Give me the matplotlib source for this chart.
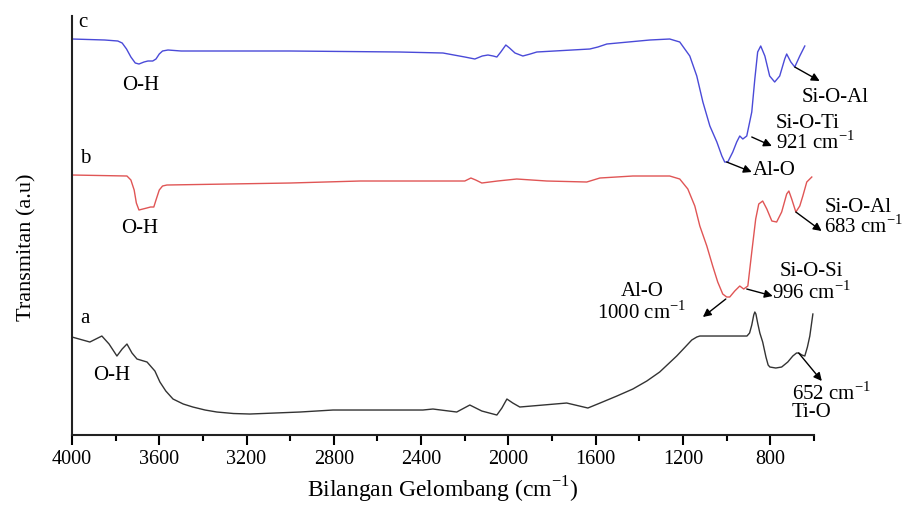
import numpy as np
import matplotlib
matplotlib.use('Agg')
from matplotlib import pyplot as plt
from matplotlib.ticker import MultipleLocator

plt.rcParams['font.family'] = ['Liberation Serif', 'DejaVu Serif']

# curve c (blue)
wn_c = [4000, 3850, 3790, 3770, 3750, 3730, 3710, 3693, 3670, 3652, 3630, 3615,
        3600, 3585, 3560, 3500, 3000, 2500, 2300, 2200, 2154, 2120, 2094, 2070,
        2053, 2035, 2012, 1995, 1970, 1934, 1900, 1870, 1627, 1590, 1549, 1352,
        1261, 1215, 1169, 1137, 1109, 1077, 1045, 1022, 1009, 995, 972, 954, 940,
        926, 908, 885, 871, 858, 844, 825, 803, 780, 757, 734, 725, 706, 688,
        665, 642]
t_c = [396, 395, 394, 392, 386, 378, 372, 371, 373, 374, 374, 376,
       381, 384, 385, 384, 384, 383, 382, 378, 376, 379, 380, 379,
       378, 383, 390, 387, 382, 379, 381, 383, 386, 388, 391, 395,
       396, 393, 379, 359, 333, 309, 293, 279, 273, 273, 283, 293, 299,
       296, 299, 323, 356, 383, 389, 379, 359, 353, 359, 376, 381, 373, 368,
       379, 389]

# curve b (red)
wn_b = [4000, 3748, 3730, 3715, 3705, 3693, 3675, 3657, 3640, 3625, 3615, 3600,
        3585, 3565, 3000, 2680, 2200, 2172, 2150, 2122, 2050, 1962, 1824, 1641,
        1581, 1430, 1261, 1215, 1178, 1146, 1123, 1091, 1064, 1041, 1018, 1000,
        986, 963, 940, 922, 903, 885, 867, 853, 835, 816, 793, 771, 748, 725,
        715, 702, 683, 665, 651, 633, 610]
t_b = [260, 259, 255, 245, 232, 225, 226, 227, 228, 228, 235, 245,
       249, 250, 252, 254, 254, 257, 255, 252, 254, 256, 254, 253,
       257, 259, 259, 256, 246, 229, 209, 189, 169, 153, 141, 138,
       138, 144, 149, 146, 149, 183, 216, 231, 234, 226, 214, 213, 223, 241,
       244, 236, 223, 229, 239, 253, 258]

# curve a (black)
wn_a = [4000, 3918, 3863, 3830, 3794, 3770, 3748, 3725, 3702, 3656, 3620, 3597,
        3570, 3537, 3490, 3446, 3390, 3336, 3260, 3185, 2955, 2804, 2392, 2346,
        2237, 2177, 2122, 2053, 2030, 2007, 1980, 1948, 1733, 1636, 1580, 1503,
        1430, 1366, 1307, 1229, 1190, 1160, 1137, 1123, 907, 895, 885, 876, 871,
        866, 858, 848, 835, 820, 810, 802, 775, 748, 720, 697, 680, 670, 655,
        642, 630, 619, 605]
t_a = [98, 93, 99, 91, 79, 86, 91, 82, 76, 73, 64, 53,
       44, 36, 31, 28, 25, 23, 21.5, 21, 23, 25, 25, 26,
       23, 30, 24, 20, 27, 36, 32, 28, 32, 27, 32, 39,
       46, 54, 63, 79, 88, 95, 98, 99, 99, 102, 110, 120, 123,
       121, 112, 102, 93, 78, 70, 68, 67, 68, 73, 79, 82, 82, 80,
       79, 88, 99, 121]

fig = plt.figure(figsize=(9.03, 5.06), dpi=100)
ax = fig.add_axes([0.0797, 0.1383, 0.8217, 0.8281])

ax.plot(wn_c, t_c, color='#4a4ad8', lw=1.0)
ax.plot(wn_b, t_b, color='#e05555', lw=1.0)
ax.plot(wn_a, t_a, color='#333333', lw=1.0)

ax.set_xlim(4000, 600)
ax.set_ylim(0, 419)
ax.xaxis.set_major_locator(MultipleLocator(400))
ax.xaxis.set_minor_locator(MultipleLocator(200))
ax.set_yticks([])
for s in ['top', 'right']:
    ax.spines[s].set_visible(False)
for s in ['left', 'bottom']:
    ax.spines[s].set_linewidth(1.5)
    ax.spines[s].set_color('#222222')
ax.tick_params(axis='x', which='major', length=7, width=1.5, labelsize=14.5, pad=3)
ax.tick_params(axis='x', which='minor', length=4, width=1.5)

ax.set_xlabel('Bilangan Gelombang (cm$^{\\mathregular{-1}}$)', fontsize=17, va='center')
ax.xaxis.set_label_coords(0.5, -0.128)
ax.set_ylabel('Transmitan (a.u)', fontsize=16, va='center')
ax.yaxis.set_label_coords(-0.061, 0.45)

fs = 15
ax.text(3950, 414, 'c', fontsize=fs, va='center', ha='center')
ax.text(3940, 278, 'b', fontsize=fs, va='center', ha='center')
ax.text(3940, 118, 'a', fontsize=fs, va='center', ha='center')
ax.text(3684, 351, 'O-H', fontsize=fs, va='center', ha='center')
ax.text(3689, 208, 'O-H', fontsize=fs, va='center', ha='center')
ax.text(3817, 61, 'O-H', fontsize=fs, va='center', ha='center')

ax.text(505, 339, 'Si-O-Al', fontsize=fs, va='center', ha='center', clip_on=False)
ax.text(775, 302, 'Si-O-Ti\n921 cm$^{\\mathregular{-1}}$', fontsize=fs, va='center',
        ha='left', linespacing=0.9, clip_on=False)
ax.text(880, 266, 'Al-O', fontsize=fs, va='center', ha='left')
ax.text(553, 218, 'Si-O-Al\n683 cm$^{\\mathregular{-1}}$', fontsize=fs, va='center',
        ha='left', linespacing=0.9, clip_on=False)
ax.text(612, 153, 'Si-O-Si\n996 cm$^{\\mathregular{-1}}$', fontsize=fs, va='center',
        ha='center', linespacing=1.0, clip_on=False)
ax.text(1389, 133, 'Al-O\n1000 cm$^{\\mathregular{-1}}$', fontsize=fs, va='center',
        ha='center', linespacing=1.0)
ax.text(702, 34, '652 cm$^{\\mathregular{-1}}$\nTi-O', fontsize=fs, va='center',
        ha='left', linespacing=0.9, clip_on=False)

arrows = [((688, 368), (574, 354)),
          ((885, 298), (793, 289)),
          ((1000, 273), (885, 263)),
          ((683, 223), (565, 204)),
          ((908, 146), (789, 139)),
          ((1004, 136), (1109, 118)),
          ((670, 82), (564, 54))]
for tail, head in arrows:
    ax.annotate('', xy=head, xytext=tail, annotation_clip=False,
                arrowprops=dict(arrowstyle='-|>', color='black', lw=1.0,
                                mutation_scale=12, shrinkA=0, shrinkB=0))

fig.savefig('out.png', dpi=100)
